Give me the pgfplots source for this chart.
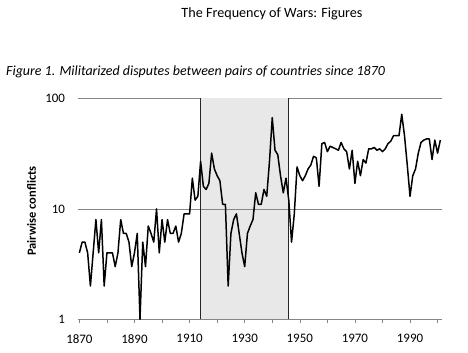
\documentclass[border=0pt]{standalone}
\usepackage{pgfplots}
\pgfplotsset{compat=1.18}
\usepackage{fontspec}
\setmainfont{Carlito}
\definecolor{gridc}{HTML}{868686}
\definecolor{shade}{HTML}{E8E8E8}
\begin{document}
\begin{tikzpicture}
\useasboundingbox (0bp,0bp) rectangle (468bp,353bp);
\node[font=\fontsize{14.2}{16}\selectfont] at (272bp,339bp) {The Frequency of Wars: Figures};
\node[font=\fontsize{14}{16}\selectfont\itshape, anchor=west, inner sep=0pt] at (6bp,281bp) {Figure 1. Militarized disputes between pairs of countries since 1870};
\node[font=\fontsize{12.5}{14}\selectfont\bfseries, rotate=90, inner sep=0pt] at (31.5bp,142bp) {Pairwise conflicts};
\begin{axis}[
  at={(78bp,33.7bp)}, anchor=south west,
  scale only axis, width=363.7bp, height=220.8bp,
  ymode=log, ymin=1, ymax=100,
  xmin=1869.5, xmax=2001.5,
  ytick={1,10,100}, yticklabels={1,10,100},
  xtick={1870,1880,...,2000},
  xticklabels={1870,,1890,,1910,,1930,,1950,,1970,,1990,},
  ymajorgrids, major grid style={gridc, line width=0.8pt},
  axis x line*=bottom, axis y line*=left,
  x axis line style={gridc, line width=0.8pt, -},
  y axis line style={draw=none},
  ytick style={draw=none},
  xtick style={gridc, line width=0.6pt},
  tick align=outside, major tick length=3.5bp,
  tick label style={font=\fontsize{13}{15}\selectfont},
  xticklabel style={yshift=-8bp},
  yticklabel style={xshift=-6bp},
  clip=false,
]
\addplot[fill=shade, draw=none] coordinates {(1914,1) (1914,100) (1946,100) (1946,1)};
\addplot[gridc, line width=0.8pt] coordinates {(1914,10) (1946,10)};
\addplot[black!85, line width=0.8pt] coordinates {(1914,1) (1914,100)};
\addplot[black!85, line width=0.8pt] coordinates {(1946,1) (1946,100)};
\addplot[black, line width=1.5pt, line join=round] coordinates {
(1870,4) (1871,5) (1872,5) (1873,4) (1874,2) (1875,4) (1876,8) (1877,4) (1878,8) (1879,2)
(1880,4) (1881,4) (1882,4) (1883,3) (1884,4) (1885,8) (1886,6) (1887,6) (1888,5) (1889,3)
(1890,4) (1891,6) (1892,1) (1893,5) (1894,3) (1895,7) (1896,6) (1897,5) (1898,10) (1899,4)
(1900,8) (1901,5) (1902,8) (1903,6) (1904,6) (1905,7) (1906,5) (1907,6) (1908,9) (1909,9)
(1910,9) (1911,19) (1912,12) (1913,13) (1914,27) (1915,16) (1916,15) (1917,17) (1918,32) (1919,23)
(1920,20) (1921,18) (1922,11) (1923,11) (1924,2) (1925,6) (1926,8) (1927,9) (1928,6) (1929,4)
(1930,3) (1931,6) (1932,7) (1933,8) (1934,14) (1935,11) (1936,11) (1937,15) (1938,13) (1939,27)
(1940,67) (1941,34) (1942,31) (1943,20) (1944,14) (1945,19) (1946,12) (1947,5) (1948,9) (1949,24)
(1950,20) (1951,18) (1952,20) (1953,23) (1954,25) (1955,30) (1956,29) (1957,16) (1958,39) (1959,40)
(1960,33) (1961,37) (1962,36) (1963,35) (1964,34) (1965,40) (1966,35) (1967,33) (1968,23) (1969,34)
(1970,17) (1971,27) (1972,20) (1973,28) (1974,26) (1975,35) (1976,35) (1977,36) (1978,34) (1979,35)
(1980,33) (1981,35) (1982,39) (1983,41) (1984,46) (1985,46) (1986,46) (1987,72) (1988,46) (1989,25)
(1990,13) (1991,20) (1992,23) (1993,32) (1994,40) (1995,42) (1996,43) (1997,43) (1998,28) (1999,42)
(2000,32) (2001,42)
};
\end{axis}
\end{tikzpicture}
\end{document}
